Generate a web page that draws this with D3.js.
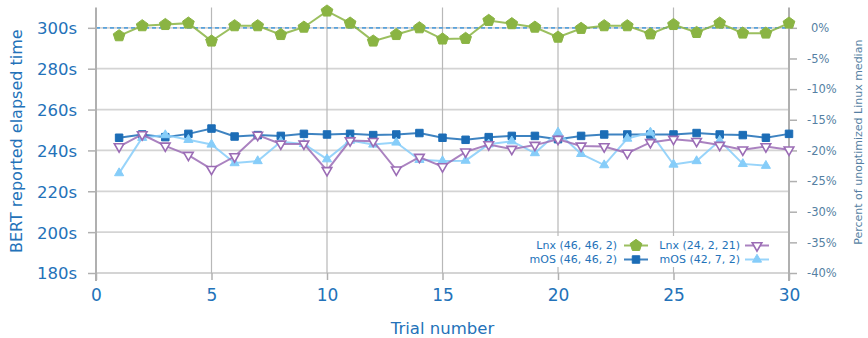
<!DOCTYPE html>
<html>
<head>
<meta charset="utf-8">
<script src="https://cdn.jsdelivr.net/npm/d3@7/dist/d3.min.js"></script>
<style>
  html, body { margin: 0; padding: 0; background: #fff; }
  svg { display: block; font-family: "DejaVu Sans", sans-serif; }
</style>
</head>
<body>
<svg id="chart" width="868" height="338"></svg>
<script>
// Trial numbers 1..30
const trials = d3.range(1, 31);

// Elapsed time per trial (seconds)
const lnx46 = [296.1, 301.0, 301.6, 302.3, 293.5, 301.0, 301.0, 296.7, 300.3, 308.2,
               302.3, 293.5, 296.7, 300.0, 294.5, 294.8, 303.6, 302.0, 300.3, 295.4,
               299.7, 301.0, 301.0, 297.0, 301.6, 297.7, 302.3, 297.4, 297.4, 302.3];
const lnx24 = [241.9, 247.8, 242.2, 237.7, 230.8, 237.0, 247.5, 243.2, 243.2, 230.2,
               244.8, 244.5, 230.5, 236.7, 232.1, 239.3, 242.9, 240.6, 242.6, 245.5,
               242.2, 241.9, 238.7, 243.9, 245.5, 244.5, 242.6, 240.3, 241.9, 240.3];
const mos46 = [246.2, 247.8, 246.5, 248.1, 250.7, 246.8, 247.5, 247.1, 248.1, 247.8,
               248.1, 247.5, 247.8, 248.5, 246.2, 245.2, 246.5, 247.1, 247.1, 245.5,
               247.1, 247.8, 247.8, 247.8, 247.8, 248.5, 247.8, 247.5, 246.2, 248.1];
const mos42 = [228.9, 246.2, 247.5, 245.2, 242.9, 233.8, 234.8, 244.2, 243.2, 235.7,
               244.8, 242.9, 243.9, 235.4, 234.8, 235.0, 243.0, 244.5, 238.7, 248.8,
               238.3, 232.8, 245.8, 248.8, 233.1, 234.8, 244.8, 233.4, 232.5];

const xTicks = [0, 5, 10, 15, 20, 25, 30];
const yTicks = [180, 200, 220, 240, 260, 280, 300];
const pctTicks = [0, -5, -10, -15, -20, -25, -30, -35, -40];
const linuxMedian = 300;

const seriesLabels = ["Lnx (46, 46, 2)", "Lnx (24, 2, 21)", "mOS (46, 46, 2)", "mOS (42, 7, 2)"];

const colGreen = "#8ab443", colPurple = "#9b6cb5", colBlue = "#1c6db6", colLight = "#86cdf9";
const axisBlue = "#2372b9", rightGrey = "#557fa3";

const svg = d3.select("#chart");
const plotLeft = 96, plotRight = 789, plotTop = 7.4, plotBottom = 273;

const x = d3.scaleLinear().domain([0, 30]).range([plotLeft, plotRight]);
const y = d3.scaleLinear().domain([180, 310]).range([plotBottom, plotTop]);
const yPct = d3.scaleLinear()
  .domain([(180 / linuxMedian - 1) * 100, (310 / linuxMedian - 1) * 100])
  .range([plotBottom, plotTop]);

// grid
const grid = svg.append("g");
grid.selectAll("line.h").data(yTicks).join("line")
  .attr("x1", plotLeft).attr("x2", plotRight)
  .attr("y1", d => y(d)).attr("y2", d => y(d))
  .attr("stroke", "#d4d4d4").attr("stroke-width", 1.8);
grid.selectAll("line.v").data(xTicks.filter(d => d > 0 && d < 30)).join("line")
  .attr("x1", d => x(d)).attr("x2", d => x(d))
  .attr("y1", plotTop).attr("y2", plotBottom)
  .attr("stroke", "#b8b8b8").attr("stroke-width", 1.2);

// median reference line
svg.append("line")
  .attr("x1", plotLeft).attr("x2", plotRight)
  .attr("y1", y(linuxMedian)).attr("y2", y(linuxMedian))
  .attr("stroke", "#5aa2db").attr("stroke-width", 1.6)
  .attr("stroke-dasharray", "4,3");

// axes
const xAxis = d3.axisBottom(x).tickValues(xTicks).tickSize(7).tickPadding(9);
const gx = svg.append("g").attr("transform", `translate(0,${plotBottom})`).call(xAxis);
gx.select(".domain").remove();
gx.selectAll(".tick line").attr("stroke", "#b0b0b0").attr("stroke-width", 1.5);
gx.selectAll(".tick text").attr("fill", axisBlue).attr("font-size", 17)
  .attr("font-family", "DejaVu Sans");

const yAxis = d3.axisLeft(y).tickValues(yTicks).tickFormat(d => d + "s").tickSize(8).tickPadding(11);
const gy = svg.append("g").attr("transform", `translate(${plotLeft},0)`).call(yAxis);
gy.select(".domain").remove();
gy.selectAll(".tick line").attr("stroke", "#b0b0b0").attr("stroke-width", 1.5);
gy.selectAll(".tick text").attr("fill", axisBlue).attr("font-size", 16.5)
  .attr("font-family", "DejaVu Sans").attr("dy", "0.36em");

const yRAxis = d3.axisRight(yPct).tickValues(pctTicks).tickFormat(d => d + "%").tickSize(8).tickPadding(10);
const gr = svg.append("g").attr("transform", `translate(${plotRight},0)`).call(yRAxis);
gr.select(".domain").remove();
gr.selectAll(".tick line").attr("stroke", "#b0b0b0").attr("stroke-width", 1.5);
gr.selectAll(".tick text").attr("fill", rightGrey).attr("font-size", 11.5)
  .attr("font-family", "DejaVu Sans")
  .attr("x", d => d === 0 ? 22 : 18);

// axis spines
svg.append("line").attr("x1", plotLeft).attr("x2", plotLeft).attr("y1", plotTop).attr("y2", plotBottom + 8)
  .attr("stroke", "#b0b0b0").attr("stroke-width", 2);
svg.append("line").attr("x1", plotRight).attr("x2", plotRight).attr("y1", plotTop).attr("y2", plotBottom + 8)
  .attr("stroke", "#b0b0b0").attr("stroke-width", 2);

// axis titles
svg.append("text").attr("transform", `translate(22,${(plotTop + plotBottom) / 2 + 1}) rotate(-90)`)
  .attr("text-anchor", "middle").attr("fill", axisBlue).attr("font-size", 16)
  .text("BERT reported elapsed time");
svg.append("text").attr("x", (plotLeft + plotRight) / 2).attr("y", 333.5)
  .attr("text-anchor", "middle").attr("fill", axisBlue).attr("font-size", 16.5)
  .text("Trial number");
svg.append("text").attr("transform", `translate(862,${(plotTop + plotBottom) / 2 + 2}) rotate(-90)`)
  .attr("text-anchor", "middle").attr("fill", rightGrey).attr("font-size", 11)
  .text("Percent of unoptimized Linux median");

// marker shapes
const pentagon = {
  draw(ctx, size) {
    const r = Math.sqrt(size / 2.378);
    for (let i = 0; i < 5; i++) {
      const a = -Math.PI / 2 + i * 2 * Math.PI / 5;
      const px = r * Math.cos(a), py = r * Math.sin(a);
      i === 0 ? ctx.moveTo(px, py) : ctx.lineTo(px, py);
    }
    ctx.closePath();
  }
};
const triDown = {
  draw(ctx, size) {
    const s = Math.sqrt(size / 0.433);
    const h = s * 0.866;
    ctx.moveTo(-s / 2, -h / 3);
    ctx.lineTo(s / 2, -h / 3);
    ctx.lineTo(0, 2 * h / 3);
    ctx.closePath();
  }
};

const series = [
  { name: seriesLabels[2], values: mos46, color: colBlue, symbol: d3.symbolSquare, size: 56, fill: true },
  { name: seriesLabels[3], values: mos42, color: colLight, symbol: d3.symbolTriangle, size: 36, fill: true },
  { name: seriesLabels[1], values: lnx24, color: colPurple, symbol: triDown, size: 40, fill: false },
  { name: seriesLabels[0], values: lnx46, color: colGreen, symbol: pentagon, size: 90, fill: true }
];

const line = d3.line().x(d => x(d[0])).y(d => y(d[1]));

function drawMarker(g, s, px, py) {
  g.append("path")
    .attr("d", d3.symbol().type(s.symbol).size(s.size)())
    .attr("transform", `translate(${px},${py})`)
    .attr("fill", s.fill ? s.color : "#fff")
    .attr("stroke", s.color)
    .attr("stroke-width", s.fill ? 1 : 1.6);
}

series.forEach(s => {
  const pts = s.values.map((v, i) => [trials[i], v]);
  const g = svg.append("g");
  g.append("path").datum(pts).attr("d", line)
    .attr("fill", "none").attr("stroke", s.color).attr("stroke-width", 2)
    .attr("stroke-opacity", 0.85);
  pts.forEach(p => drawMarker(g, s, x(p[0]), y(p[1])));
});

// legend
const legend = svg.append("g");
legend.append("rect").attr("x", 520).attr("y", 236).attr("width", 258).attr("height", 31)
  .attr("fill", "#fff");
const legendRows = [
  [series[3], series[2]],
  [series[0], series[1]]
];
const colText = [617, 740], colLine = [624, 745], rowY = [245.5, 259.5];
legendRows.forEach((row, r) => {
  row.forEach((s, c) => {
    legend.append("text").attr("x", colText[c]).attr("y", rowY[r]).attr("dy", "0.35em")
      .attr("text-anchor", "end").attr("fill", axisBlue).attr("font-size", 11)
      .text(s.name);
    legend.append("line").attr("x1", colLine[c]).attr("x2", colLine[c] + 24)
      .attr("y1", rowY[r]).attr("y2", rowY[r])
      .attr("stroke", s.color).attr("stroke-width", 2).attr("stroke-opacity", 0.85);
    drawMarker(legend, s, colLine[c] + 12, rowY[r]);
  });
});
</script>
</body>
</html>
